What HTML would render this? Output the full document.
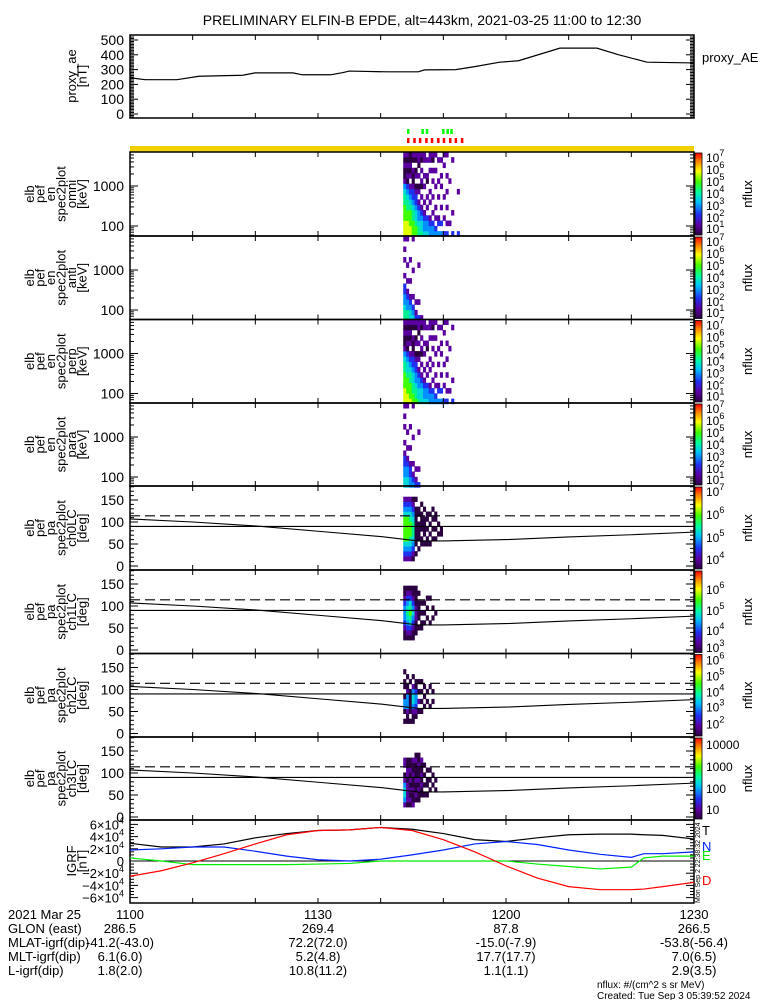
<!DOCTYPE html>
<html><head><meta charset="utf-8"><style>
body{margin:0;background:#fff;}
svg text{font-family:"Liberation Sans",sans-serif;fill:#000;}
</style></head><body>
<svg id="c" width="775" height="1000" viewBox="0 0 775 1000" xmlns="http://www.w3.org/2000/svg">
<defs>
<linearGradient id="cb" x1="0" y1="1" x2="0" y2="0">
<stop offset="0" stop-color="#2a0040"/><stop offset="0.12" stop-color="#5a00a0"/><stop offset="0.25" stop-color="#2030f0"/><stop offset="0.4" stop-color="#00c0ff"/><stop offset="0.52" stop-color="#00ffa0"/><stop offset="0.65" stop-color="#40ff00"/><stop offset="0.78" stop-color="#ffff00"/><stop offset="0.9" stop-color="#ff8000"/><stop offset="1" stop-color="#ff0000"/>
</linearGradient>
</defs>
<text x="422" y="25" font-size="14" text-anchor="middle">PRELIMINARY ELFIN-B EPDE, alt=443km, 2021-03-25 11:00 to 12:30</text>
<g id="g"></g>
</svg>
<script>
// ---- data ----
const aeTimes=[0,2.4,7.5,11,18,20,26,27.5,32,34,35,41,46,47,52,55,59,62,68.6,74.5,78,82.5,90];
const aeVals=[245,232,232,255,262,278,278,265,265,280,290,285,285,298,300,320,350,360,445,445,400,350,345];
const igrfTimes=[0,5,10,15,20,25,30,35,40,45,50,55,60,65,70,75,80,82,85,90];
const igrfT=[2.9,2.3,2.3,2.8,3.8,4.5,5.0,5.1,5.5,5.2,4.5,3.5,3.2,3.8,4.3,4.4,4.4,4.3,4.2,3.6];
const igrfN=[1.8,2.0,2.3,2.3,1.6,0.8,0.2,0.0,0.3,1.0,1.8,2.8,3.2,2.7,1.8,1.1,0.6,1.2,1.2,1.5];
const igrfE=[0.5,0.0,-0.6,-0.6,-0.6,-0.6,-0.5,-0.4,0.0,0.0,0.0,0.0,0.0,-0.5,-0.9,-1.3,-1.0,0.5,0.8,0.8];
const igrfD=[-2.5,-1.6,-0.3,1.2,2.8,4.3,5.0,5.1,5.5,5.0,3.5,1.5,-0.8,-2.8,-4.2,-4.7,-4.7,-4.6,-4.2,-3.5];
const lcTimes=[0,10,20,30,40,43.6,46,50,60,70,80,90];
const lcDeg=[107,100,91,79,67,61,57,57,60,66,71,77];
const specStart=43.6, specColMin=0.45;
const omni=["7776665543100101","7776655432010101","7766654321.10100","6665543221001.01","6654432210.10.01","5543321.10.1.011","544321.1.01.1.01","43321.1..1.1..11","4332.1.1..01..1.","3321..1.1...1.11","332.1..1..1.1.01","32.1.1...1..1..1","3.21...1..1...1.","3.2..1...1.1..1.","2..1...1.....1.1","2.1..1..1..1...1","..1.......1.....","2...1.........1.","................","2.......1......."];
const anti=["5543322.1..1.1.1","553321.1..1....1","44321..1...1....","432.1....1.....1","21.1............","2..1......1.....","1..............."];
const perp=["7776665543100101","7766654432010101","7666554321.10101","6655443221001.01","6554332210.10.01","5443321.10.1.011","444321.1.01.1.01","43321.1..1.1..11","4332.1.1..01..1.","3321..1.1...1.11","332.1..1..1.1.01","32.1.1...1..1..1","3.21...1..1...1.","3.2..1...1.1..1.","2..1...1.....1.1","2.1..1..1..1...1","..1.......1.....","2...1.........1."];
const para=["4433221.1..1.1.1","443321.1..1....1","33221..1...1....","321.1....1.....1","21.1............","2..1......1....."];
const pa0=[".1234666664321..",".1234666664321..",".1234566654321..",".0123455543210..","..0.00000000.0..","...0.0000.00....","....00.0000.0...","....0.0000.0....","....00.0.00.....","....0.0.0.0.....",".....0.0.0.0....",".....0.0.00.....","......0.0.......","......00........"];
const pa1=["..00123332100...","..01234543210...","..01245654210...","..00123432100...","...0001110000...","....0.0000.0....","....00.0.0......",".....0.0.0......","......0.0.0.....",".....0....0.....","......0.0.......",".......0........"];
const pa2=["..0.0330.00.0...","..00133310.0....","..0.00000.0.....","..00134431.0....","...01233200.....","....0.1.0.0.....","....0.0.0.0.....",".....0.0.0......","......0.0.......",".....0...0......","......0.0......."];
const pa3=["..1344310.11....","..0111101100....","..0101010100....","..1001001001....","...0100100010...","...0010100100...","....00101001....","....0.0.0.0.....","....0.00.0......",".....0.0.0......","......0.0.......",".....0.0........"];
const specTicksE=[100,1000];
const paTicks=[0,50,100,150];
const aeTicks=[0,100,200,300,400,500];
const timeLabels=["1100","1130","1200","1230"];
const glon=["286.5","269.4","87.8","266.5"];
const mlat=["-41.2(-43.0)","72.2(72.0)","-15.0(-7.9)","-53.8(-56.4)"];
const mlt=["6.1(6.0)","5.2(4.8)","17.7(17.7)","7.0(6.5)"];
const lshell=["1.8(2.0)","10.8(11.2)","1.1(1.1)","2.9(3.5)"];
const greenMarks=[44.2,46.5,47.2,49.8,50.5,51.1];
const redMarks=[44.2,45.2,46.1,47.1,48.0,49.0,49.9,50.9,51.8,52.8];
// ---- helpers ----
const NS="http://www.w3.org/2000/svg";const G=document.getElementById('g');
const X0=130,X1=694;const xT=m=>X0+m*(X1-X0)/90;
function el(t,a,p){const e=document.createElementNS(NS,t);for(const k in a)e.setAttribute(k,a[k]);(p||G).appendChild(e);return e;}
const cols=["#2a0040","#5a00a0","#2030f0","#0090ff","#00d8d8","#00f090","#40ff00","#e0ff00","#ff8000","#ff0000"];
function txt(s,x,y,fs,anchor,name,rot){const t=el('text',{x:x,y:y,'font-size':fs,'text-anchor':anchor||'start'});t.textContent=s;if(rot)t.setAttribute('transform',`rotate(-90 ${x} ${y})`);return t;}
function box(top,bot,name){const r=el('rect',{x:X0,y:top,width:X1-X0,height:bot-top,fill:'none',stroke:'#000','stroke-width':1.5});
 for(let m=0;m<=90;m+=10){el('line',{x1:xT(m),x2:xT(m),y1:top,y2:top+5,stroke:'#000'});el('line',{x1:xT(m),x2:xT(m),y1:bot,y2:bot-5,stroke:'#000'});}}
function ytick(y,len){el('line',{x1:X0,x2:X0+len,y1:y,y2:y,stroke:'#000'});el('line',{x1:X1,x2:X1-len,y1:y,y2:y,stroke:'#000'});}
function ylabel(lines,cy,name){const g=el('g',{});const n=lines.length;lines.forEach((s,i)=>{const x=34+(i-(n-6))*10.5;const t=el('text',{x:x,y:cy,'font-size':13,'text-anchor':'middle',transform:`rotate(-90 ${x} ${cy})`},g);t.textContent=s;});}
function colorbar(top,bot,labels,name){const r=el('rect',{x:695,y:top+1,width:7,height:bot-top-2,fill:'url(#cb)',stroke:'#000','stroke-width':0.8});
 labels.forEach(l=>{const t=el('text',{x:706,y:l[1],'font-size':12});if(l[0].indexOf('^')>0){t.textContent='10';const s=el('tspan',{dy:-6,'font-size':9},t);s.textContent=l[0].split('^')[1];}else t.textContent=l[0];});
 txt('nflux',752,(top+bot)/2,13,'middle','colorbar-title',true);}
// ---- top proxy AE panel ----
const yAE=v=>114-v*0.148;
box(35,118,'proxy-ae-panel');
for(let v=-20;v<=530;v+=10){if(yAE(v)>36&&yAE(v)<117)ytick(yAE(v),v%100==0?8:4);}
aeTicks.forEach(v=>txt(String(v),124,yAE(v)+5,14,'end','ae-y-tick-label'));
const ae=el('polyline',{fill:'none',stroke:'#000','stroke-width':1.2,points:aeTimes.map((t,i)=>xT(t)+','+yAE(aeVals[i])).join(' ')});


ylabel(['proxy_ae','[nT]'],76,'ae-y-axis-title');
txt('proxy_AE',702,62,13,'start','proxy-ae-label');
// markers
greenMarks.forEach(m=>{const r=el('rect',{x:xT(m),y:129,width:2.5,height:5,fill:'#00ff00'});});
redMarks.forEach(m=>{const r=el('rect',{x:xT(m),y:138,width:2.5,height:5,fill:'#ff0000'});});
const yb=el('rect',{x:X0,y:146,width:X1-X0,height:6,fill:'#f5d000'});
// ---- spectrogram panels ----
const tops=[152,236,319.5,403,486,570,653.5,737,820];
function drawSpec(data,top,bot,yOf,nb,name){data.forEach((s,c)=>{for(let b=0;b<nb;b++){const ch=s[b];if(ch==='.'||ch===undefined)continue;const ya=yOf(b+1),yb2=yOf(b);const r=el('rect',{x:xT(specStart+c*specColMin),y:ya,width:xT(specColMin)-X0+0.3,height:yb2-ya+0.3,fill:cols[+ch]});}});}
const enSets=[[omni,'omni'],[anti,'anti'],[perp,'perp'],[para,'para']];
enSets.forEach((d,i)=>{const T=tops[i],B=tops[i+1];const yE=le=>T+34+(3-le)*40;const binY=b=>yE(1.74+b*0.132);
 drawSpec(d[0],T,B,binY,16,'energy-spectrogram-'+d[1]);
 box(T,B,'energy-panel-'+d[1]);
 for(const dec of [10,100,1000])for(let k=1;k<10;k++){const y=yE(Math.log10(dec*k));if(y>T+1&&y<B-1)ytick(y,k==1?8:4);}
 specTicksE.forEach(v=>txt(String(v),124,yE(Math.log10(v))+5,14,'end','energy-tick-label'));
 ylabel(['elb','pef','en','spec2plot',d[1],'[keV]'],(T+B)/2,'energy-y-axis-title-'+d[1]);
 colorbar(T,B,[['10^7',T+10],['10^6',T+22],['10^5',T+34],['10^4',T+46],['10^3',T+58],['10^2',T+70],['10^1',T+81]],'colorbar-'+d[1]);
});
const paSets=[[pa0,'ch0LC',[['10^7',tops[4]+10],['10^6',tops[4]+33],['10^5',tops[4]+56],['10^4',tops[4]+78]]],
 [pa1,'ch1LC',[['10^6',tops[5]+24],['10^5',tops[5]+45],['10^4',tops[5]+65],['10^3',tops[5]+82]]],
 [pa2,'ch2LC',[['10^6',tops[6]+11],['10^5',tops[6]+27],['10^4',tops[6]+43],['10^3',tops[6]+58],['10^2',tops[6]+75]]],
 [pa3,'ch3LC',[['10000',tops[7]+12],['1000',tops[7]+34],['100',tops[7]+56],['10',tops[7]+77]]]];
paSets.forEach((d,i)=>{const T=tops[4+i],B=tops[5+i];const yP=v=>T+80-v*0.44;const binY=b=>yP(b*11.25);
 drawSpec(d[0],T,B,binY,16,'pa-spectrogram-'+d[1]);
 const lc=el('polyline',{fill:'none',stroke:'#000','stroke-width':1.1,points:lcTimes.map((t,j)=>xT(t)+','+yP(lcDeg[j])).join(' ')});
 
 
 const l90=el('line',{x1:X0,x2:X1,y1:yP(90),y2:yP(90),stroke:'#000','stroke-width':1.1});
 const ld=el('line',{x1:X0,x2:X1,y1:yP(114),y2:yP(114),stroke:'#000','stroke-width':1.1,'stroke-dasharray':'10,5'});
 box(T,B,'pa-panel-'+d[1]);
 for(let v=0;v<=180;v+=10)ytick(yP(v),v%50==0?8:4);
 paTicks.forEach(v=>txt(String(v),124,yP(v)+5,14,'end','pa-tick-label'));
 ylabel(['elb','pef','pa','spec2plot',d[1],'[deg]'],(T+B)/2,'pa-y-axis-title-'+d[1]);
 colorbar(T,B,d[2],'colorbar-'+d[1]);
});
// ---- IGRF panel ----
const yI=v=>861-v*6.1;
const IT=820,IB=903;
box(IT,IB,'igrf-panel');
for(let v=-6;v<=6;v+=0.5){const y=yI(v);if(y>IT&&y<IB)ytick(y,Number.isInteger(v/2)?8:4);}
el('line',{x1:X0,x2:X1,y1:yI(0),y2:yI(0),stroke:'#000','stroke-width':1.1});
[[igrfT,'#000','T'],[igrfN,'#0020ff','N'],[igrfE,'#00ee00','E'],[igrfD,'#ff0000','D']].forEach(s=>{const p=el('polyline',{fill:'none',stroke:s[1],'stroke-width':1.2,points:igrfTimes.map((t,j)=>xT(t)+','+yI(s[0][j])).join(' ')});
 
 });
[6,4,2,0,-2,-4,-6].forEach(v=>{const t=el('text',{x:124,y:yI(v)+5,'font-size':13,'text-anchor':'end'});
 if(v==0){t.textContent='0';}else{t.textContent=(v<0?'−':'')+Math.abs(v)+'×10';const s=el('tspan',{dy:-6,'font-size':9},t);s.textContent='4';}});
ylabel(['IGRF','[nT]'],861,'igrf-y-axis-title');
[['T','#000',835],['N','#0020ff',851],['E','#00ee00',860],['D','#ff0000',885]].forEach(l=>{const t=txt(l[0],702,l[2],13,'start','igrf-legend-'+l[0]);t.setAttribute('fill',l[1]);t.style.fill=l[1];});
txt('Mon Sep  2 22:38:32 2024',700,903,7,'start','igrf-timestamp',true);
// ---- bottom annotations ----
const rows=[['2021 Mar 25',timeLabels,919],['GLON (east)',glon,933],['MLAT-igrf(dip)',mlat,947],['MLT-igrf(dip)',mlt,961],['L-igrf(dip)',lshell,975]];
rows.forEach(r=>{txt(r[0],8,r[2],13,'start','annotation-row-label');r[1].forEach((s,i)=>txt(s,xT(i*30)+(i==0&&r[0]!='2021 Mar 25'?-10:0),r[2],13,'middle','annotation-value'));});
txt('nflux: #/(cm^2 s sr MeV)',597,988,10,'start','units-note');
txt('Created: Tue Sep  3 05:39:52 2024',597,999,10,'start','created-note');
</script>
</body></html>
